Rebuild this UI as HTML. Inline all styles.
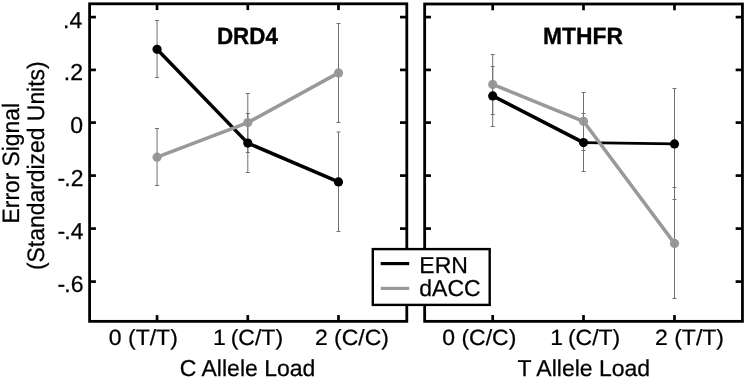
<!DOCTYPE html><html><head><meta charset="utf-8"><title>Error Signal by Allele Load: DRD4 and MTHFR</title><style>html,body{margin:0;padding:0;background:#fff}svg{display:block;will-change:transform}text{font-family:"Liberation Sans",sans-serif;fill:#000;text-rendering:geometricPrecision}</style></head><body>
<svg width="747" height="379" viewBox="0 0 747 379">
<rect width="747" height="379" fill="#fff"/>
<rect x="89.6" y="3.8" width="317.2" height="317.55" fill="none" stroke="#000" stroke-width="2.8"/>
<line x1="89.6" y1="17.1" x2="95.9" y2="17.1" stroke="#000" stroke-width="2.7"/>
<line x1="406.8" y1="17.1" x2="400.0" y2="17.1" stroke="#000" stroke-width="2.7"/>
<line x1="89.6" y1="69.9" x2="95.9" y2="69.9" stroke="#000" stroke-width="2.7"/>
<line x1="406.8" y1="69.9" x2="400.0" y2="69.9" stroke="#000" stroke-width="2.7"/>
<line x1="89.6" y1="122.6" x2="95.9" y2="122.6" stroke="#000" stroke-width="2.7"/>
<line x1="406.8" y1="122.6" x2="400.0" y2="122.6" stroke="#000" stroke-width="2.7"/>
<line x1="89.6" y1="175.6" x2="95.9" y2="175.6" stroke="#000" stroke-width="2.7"/>
<line x1="406.8" y1="175.6" x2="400.0" y2="175.6" stroke="#000" stroke-width="2.7"/>
<line x1="89.6" y1="228.6" x2="95.9" y2="228.6" stroke="#000" stroke-width="2.7"/>
<line x1="406.8" y1="228.6" x2="400.0" y2="228.6" stroke="#000" stroke-width="2.7"/>
<line x1="89.6" y1="281.6" x2="95.9" y2="281.6" stroke="#000" stroke-width="2.7"/>
<line x1="406.8" y1="281.6" x2="400.0" y2="281.6" stroke="#000" stroke-width="2.7"/>
<line x1="157.05" y1="3.8" x2="157.05" y2="10.1" stroke="#000" stroke-width="2.7"/>
<line x1="157.05" y1="321.35" x2="157.05" y2="315.05" stroke="#000" stroke-width="2.7"/>
<line x1="247.8" y1="3.8" x2="247.8" y2="10.1" stroke="#000" stroke-width="2.7"/>
<line x1="247.8" y1="321.35" x2="247.8" y2="315.05" stroke="#000" stroke-width="2.7"/>
<line x1="338.5" y1="3.8" x2="338.5" y2="10.1" stroke="#000" stroke-width="2.7"/>
<line x1="338.5" y1="321.35" x2="338.5" y2="315.05" stroke="#000" stroke-width="2.7"/>
<rect x="424.65" y="4.0" width="317.8" height="317.35" fill="none" stroke="#000" stroke-width="2.8"/>
<line x1="424.65" y1="17.1" x2="430.95" y2="17.1" stroke="#000" stroke-width="2.7"/>
<line x1="742.45" y1="17.1" x2="735.65" y2="17.1" stroke="#000" stroke-width="2.7"/>
<line x1="424.65" y1="69.9" x2="430.95" y2="69.9" stroke="#000" stroke-width="2.7"/>
<line x1="742.45" y1="69.9" x2="735.65" y2="69.9" stroke="#000" stroke-width="2.7"/>
<line x1="424.65" y1="122.6" x2="430.95" y2="122.6" stroke="#000" stroke-width="2.7"/>
<line x1="742.45" y1="122.6" x2="735.65" y2="122.6" stroke="#000" stroke-width="2.7"/>
<line x1="424.65" y1="175.6" x2="430.95" y2="175.6" stroke="#000" stroke-width="2.7"/>
<line x1="742.45" y1="175.6" x2="735.65" y2="175.6" stroke="#000" stroke-width="2.7"/>
<line x1="424.65" y1="228.6" x2="430.95" y2="228.6" stroke="#000" stroke-width="2.7"/>
<line x1="742.45" y1="228.6" x2="735.65" y2="228.6" stroke="#000" stroke-width="2.7"/>
<line x1="424.65" y1="281.6" x2="430.95" y2="281.6" stroke="#000" stroke-width="2.7"/>
<line x1="742.45" y1="281.6" x2="735.65" y2="281.6" stroke="#000" stroke-width="2.7"/>
<line x1="492.7" y1="4.0" x2="492.7" y2="10.3" stroke="#000" stroke-width="2.7"/>
<line x1="492.7" y1="321.35" x2="492.7" y2="315.05" stroke="#000" stroke-width="2.7"/>
<line x1="583.5" y1="4.0" x2="583.5" y2="10.3" stroke="#000" stroke-width="2.7"/>
<line x1="583.5" y1="321.35" x2="583.5" y2="315.05" stroke="#000" stroke-width="2.7"/>
<line x1="674.5" y1="4.0" x2="674.5" y2="10.3" stroke="#000" stroke-width="2.7"/>
<line x1="674.5" y1="321.35" x2="674.5" y2="315.05" stroke="#000" stroke-width="2.7"/>
<path d="M157.05 20.5V77.5M155.05 20.5H159.05M155.05 77.5H159.05" stroke="#707070" stroke-width="1" fill="none"/>
<path d="M157.05 128.5V185.5M155.05 128.5H159.05M155.05 185.5H159.05" stroke="#707070" stroke-width="1" fill="none"/>
<path d="M247.8 93.5V152.5M245.8 93.5H249.8M245.8 152.5H249.8" stroke="#707070" stroke-width="1" fill="none"/>
<path d="M247.8 113.5V172.5M245.8 113.5H249.8M245.8 172.5H249.8" stroke="#707070" stroke-width="1" fill="none"/>
<path d="M338.5 23.5V122.5M336.5 23.5H340.5M336.5 122.5H340.5" stroke="#707070" stroke-width="1" fill="none"/>
<path d="M338.5 132.0V231.5M336.5 132.0H340.5M336.5 231.5H340.5" stroke="#707070" stroke-width="1" fill="none"/>
<line x1="157.05" y1="49.3" x2="247.8" y2="143.1" stroke="#000" stroke-width="3.5" stroke-linecap="round"/>
<line x1="247.8" y1="143.1" x2="338.5" y2="181.9" stroke="#000" stroke-width="3.5" stroke-linecap="round"/>
<circle cx="157.05" cy="49.3" r="4.6" fill="#000"/>
<circle cx="247.8" cy="143.1" r="4.6" fill="#000"/>
<circle cx="338.5" cy="181.9" r="4.6" fill="#000"/>
<line x1="157.05" y1="157.2" x2="247.8" y2="122.6" stroke="#999999" stroke-width="3.5" stroke-linecap="round"/>
<line x1="247.8" y1="122.6" x2="338.5" y2="72.9" stroke="#999999" stroke-width="3.5" stroke-linecap="round"/>
<circle cx="157.05" cy="157.2" r="4.6" fill="#999999"/>
<line x1="157.05" y1="153.0" x2="157.05" y2="161.4" stroke="#8e8e8e" stroke-width="1"/>
<circle cx="247.8" cy="122.6" r="4.6" fill="#999999"/>
<line x1="247.8" y1="118.4" x2="247.8" y2="126.8" stroke="#8e8e8e" stroke-width="1"/>
<circle cx="338.5" cy="72.9" r="4.6" fill="#999999"/>
<line x1="338.5" y1="68.7" x2="338.5" y2="77.1" stroke="#8e8e8e" stroke-width="1"/>
<path d="M492.7 54.5V114.5M490.7 54.5H494.7M490.7 114.5H494.7" stroke="#707070" stroke-width="1" fill="none"/>
<path d="M492.7 66.5V126.5M490.7 66.5H494.7M490.7 126.5H494.7" stroke="#707070" stroke-width="1" fill="none"/>
<path d="M583.5 92.5V150.5M581.5 92.5H585.5M581.5 150.5H585.5" stroke="#707070" stroke-width="1" fill="none"/>
<path d="M583.5 113.5V171.5M581.5 113.5H585.5M581.5 171.5H585.5" stroke="#707070" stroke-width="1" fill="none"/>
<path d="M674.5 88.5V199.5M672.5 88.5H676.5M672.5 199.5H676.5" stroke="#707070" stroke-width="1" fill="none"/>
<path d="M674.5 187.5V298.5M672.5 187.5H676.5M672.5 298.5H676.5" stroke="#707070" stroke-width="1" fill="none"/>
<line x1="492.7" y1="95.9" x2="583.5" y2="142.6" stroke="#000" stroke-width="3.5" stroke-linecap="round"/>
<line x1="583.5" y1="142.6" x2="674.5" y2="143.9" stroke="#000" stroke-width="2.6" stroke-linecap="round"/>
<circle cx="492.7" cy="95.9" r="4.6" fill="#000"/>
<circle cx="583.5" cy="142.6" r="4.6" fill="#000"/>
<circle cx="674.5" cy="143.9" r="4.6" fill="#000"/>
<line x1="492.7" y1="84.4" x2="583.5" y2="121.3" stroke="#999999" stroke-width="3.5" stroke-linecap="round"/>
<line x1="583.5" y1="121.3" x2="674.5" y2="243.4" stroke="#999999" stroke-width="3.5" stroke-linecap="round"/>
<circle cx="492.7" cy="84.4" r="4.6" fill="#999999"/>
<line x1="492.7" y1="80.2" x2="492.7" y2="88.6" stroke="#8e8e8e" stroke-width="1"/>
<circle cx="583.5" cy="121.3" r="4.6" fill="#999999"/>
<line x1="583.5" y1="117.1" x2="583.5" y2="125.5" stroke="#8e8e8e" stroke-width="1"/>
<circle cx="674.5" cy="243.4" r="4.6" fill="#999999"/>
<line x1="674.5" y1="239.2" x2="674.5" y2="247.6" stroke="#8e8e8e" stroke-width="1"/>
<text transform="translate(82.3 27.5)" font-size="23.0" text-anchor="end" stroke="#000" stroke-width="0.25">.4</text>
<text transform="translate(83.0 80.3)" font-size="23.0" text-anchor="end" stroke="#000" stroke-width="0.25">.2</text>
<text transform="translate(83.0 133.0)" font-size="23.0" text-anchor="end" stroke="#000" stroke-width="0.25">0</text>
<text transform="translate(83.5 186.0)" font-size="23.0" text-anchor="end" stroke="#000" stroke-width="0.25"><tspan letter-spacing="-0.8">-</tspan>.2</text>
<text transform="translate(83.5 239.0)" font-size="23.0" text-anchor="end" stroke="#000" stroke-width="0.25"><tspan letter-spacing="-0.8">-</tspan>.4</text>
<text transform="translate(83.5 292.0)" font-size="23.0" text-anchor="end" stroke="#000" stroke-width="0.25"><tspan letter-spacing="-0.8">-</tspan>.6</text>
<text transform="translate(108.8 345.4) scale(1 0.96)" font-size="23.0" text-anchor="start" stroke="#000" stroke-width="0.25">0 (T/T)</text>
<text transform="translate(213.1 345.4) scale(1 0.96)" font-size="23.0" text-anchor="start" stroke="#000" stroke-width="0.25" word-spacing="-1.6">1 (C/T)</text>
<text transform="translate(314.9 345.4) scale(1 0.96)" font-size="23.0" text-anchor="start" stroke="#000" stroke-width="0.25">2 (C/C)</text>
<text transform="translate(442.2 345.4) scale(1 0.96)" font-size="23.0" text-anchor="start" stroke="#000" stroke-width="0.25">0 (C/C)</text>
<text transform="translate(550.3 345.4) scale(1 0.96)" font-size="23.0" text-anchor="start" stroke="#000" stroke-width="0.25" word-spacing="-1.6">1 (C/T)</text>
<text transform="translate(655.0 345.4) scale(1 0.96)" font-size="23.0" text-anchor="start" stroke="#000" stroke-width="0.25">2 (T/T)</text>
<text transform="translate(179.8 376.0)" font-size="23.0" text-anchor="start" stroke="#000" stroke-width="0.25">C Allele Load</text>
<text transform="translate(517.6 376.0)" font-size="23.0" text-anchor="start" stroke="#000" stroke-width="0.25">T Allele Load</text>
<text transform="translate(216.9 43.8) scale(1 1.05)" font-size="22.4" text-anchor="start" stroke="#000" stroke-width="0.35" font-weight="bold">DRD4</text>
<text transform="translate(543.0 43.8) scale(1 1.03)" font-size="22.85" text-anchor="start" stroke="#000" stroke-width="0.35" font-weight="bold">MTHFR</text>
<text transform="translate(18.7 163.2) rotate(-90) scale(1 1.04)" font-size="22.8" text-anchor="middle" stroke="#000" stroke-width="0.25">Error Signal</text>
<text transform="translate(44 165.7) rotate(-90) scale(1 1.04)" font-size="22.9" text-anchor="middle" stroke="#000" stroke-width="0.25">(Standardized Units)</text>
<rect x="372.8" y="249.1" width="116.9" height="55.8" fill="#fff" stroke="#000" stroke-width="2.4"/>
<line x1="380.7" y1="263.6" x2="409.2" y2="263.6" stroke="#000" stroke-width="3.2"/>
<line x1="380.7" y1="288.4" x2="409.2" y2="288.4" stroke="#999999" stroke-width="3.2"/>
<text transform="translate(419.3 272.5)" font-size="23.0" text-anchor="start" stroke="#000" stroke-width="0.25">ERN</text>
<text transform="translate(419.3 295.8)" font-size="23.0" text-anchor="start" stroke="#000" stroke-width="0.25">dACC</text>
</svg></body></html>
